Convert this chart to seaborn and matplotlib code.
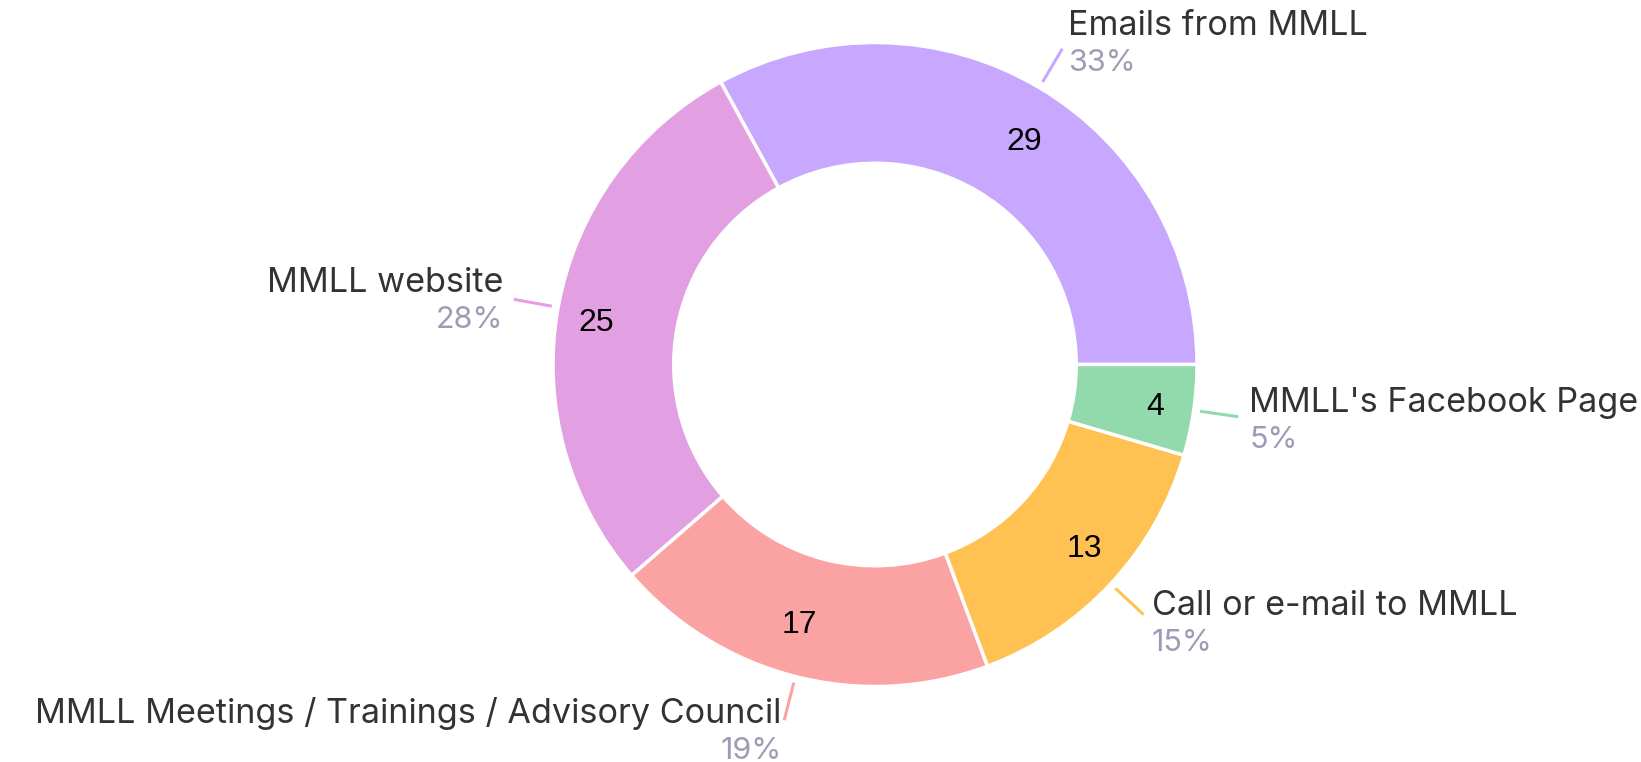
import numpy as np
import matplotlib
matplotlib.use("Agg")
import matplotlib.pyplot as plt
import seaborn as sns

# Data
categories = ["Emails from MMLL", "MMLL website",
              "MMLL Meetings / Trainings / Advisory Council",
              "Call or e-mail to MMLL", "MMLL's Facebook Page"]
counts = [29, 25, 17, 13, 4]
slice_colors = ["#c7a8fe", "#e2a0e3", "#fba3a3", "#ffc152", "#92d9ab"]

sns.set_theme(style="white")
plt.rcParams["font.family"] = ["Inter", "DejaVu Sans"]

W, H = 1641, 762
cx_px, cy_px, R_px = 875, 364.5, 322  # donut centre / radius in pixels
px = 1.0 / R_px                        # one pixel in data units

fig = plt.figure(figsize=(W / 100, H / 100), dpi=100)
ax = fig.add_axes([0, 0, 1, 1])

palette = sns.color_palette(slice_colors)
wedges, _ = ax.pie(counts, colors=palette, startangle=0, counterclock=True,
                   radius=1, wedgeprops=dict(width=0.375, edgecolor="white", linewidth=2.5))

ax.set_xlim(-cx_px * px, (W - cx_px) * px)
ax.set_ylim(-(H - cy_px) * px, cy_px * px)
ax.set_aspect("auto")
ax.axis("off")

total = sum(counts)
for w, n, name, col in zip(wedges, counts, categories, palette):
    theta = np.deg2rad((w.theta1 + w.theta2) / 2)
    c, s = np.cos(theta), np.sin(theta)

    # value inside ring (nudged outward horizontally like the original)
    vx = 0.81 * c + np.sign(c) * 22 * np.sqrt(abs(c)) * px
    vy = 0.82 * s - 5 * px
    ax.text(vx, vy, str(n), ha="center", va="center",
            fontsize=23, color="black", family=["Liberation Sans", "DejaVu Sans"])

    # leader line
    ax.plot([1.02 * c, 1.14 * c], [1.02 * s, 1.14 * s], color=col, lw=2.2,
            solid_capstyle="butt")

    ex, ey = 1.14 * c, 1.14 * s
    side = 1 if c >= 0 else -1
    tx = ex + side * 11 * abs(c) * px
    base = ey + (6 + 9 * s) * px
    ha = "left" if side > 0 else "right"
    ax.text(tx, base, name, ha=ha, va="baseline",
            fontsize=24.6, color="#333333")
    ax.text(tx, base - 36 * px, f"{n / total:.0%}", ha=ha, va="baseline",
            fontsize=22, color="#9c9db5")

fig.savefig("out.png", dpi=100, facecolor="white")
